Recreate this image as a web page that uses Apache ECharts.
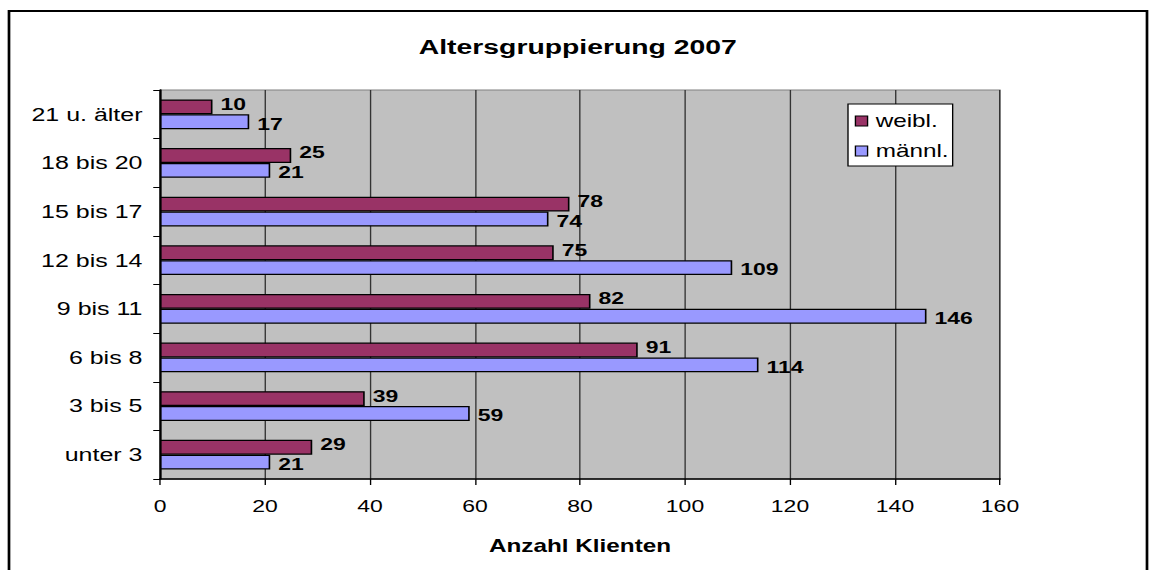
<!DOCTYPE html>
<html>
<head>
<meta charset="utf-8">
<script src="https://cdn.jsdelivr.net/npm/echarts@6/dist/echarts.min.js"></script>
<style>
  html, body { margin: 0; padding: 0; background: #fff; overflow: hidden; }
  #main { height: 570px; transform-origin: 0 0; }
</style>
</head>
<body>
<div id="main"></div>
<script>
  // data
  var categories = ['unter 3', '3 bis 5', '6 bis 8', '9 bis 11', '12 bis 14', '15 bis 17', '18 bis 20', '21 u. älter'];
  var weibl = [29, 39, 91, 82, 75, 78, 25, 10];
  var maennl = [21, 59, 114, 146, 109, 74, 21, 17];
  var seriesNames = ['weibl.', 'männl.'];

  // the reference picture is stretched sideways, so the chart is drawn narrower and scaled
  var S = 1.35;
  var el = document.getElementById('main');
  el.style.width = (1156 / S) + 'px';
  el.style.transform = 'scaleX(' + S + ')';

  var font = 'Liberation Sans, Arial, sans-serif';
  var chart = echarts.init(el, null, { renderer: 'svg' });

  var option = {
    backgroundColor: '#fff',
    animation: false,
    textStyle: { fontFamily: font, color: '#000' },
    title: {
      text: 'Altersgruppierung 2007',
      left: 'center',
      top: 31,
      textStyle: { fontFamily: font, fontSize: 21, fontWeight: 'bold', color: '#000' }
    },
    legend: {
      data: seriesNames,
      orient: 'vertical',
      left: 848 / S,
      top: 104,
      padding: [8, 3, 6, 5],
      itemWidth: 9,
      itemHeight: 10,
      itemGap: 12,
      icon: 'rect',
      backgroundColor: '#fff',
      borderColor: '#000',
      borderWidth: 1,
      borderRadius: 0,
      itemStyle: { borderColor: '#000', borderWidth: 1 },
      textStyle: { fontFamily: font, fontSize: 18, color: '#000', padding: [0, 0, 0, 1] }
    },
    grid: {
      left: 160 / S,
      top: 90,
      width: 840 / S,
      height: 389,
      show: true,
      backgroundColor: '#c0c0c0',
      borderColor: '#808080',
      borderWidth: 1
    },
    xAxis: {
      type: 'value',
      min: 0,
      max: 160,
      interval: 20,
      name: 'Anzahl Klienten',
      nameLocation: 'middle',
      nameGap: 58,
      nameTextStyle: { fontFamily: font, fontSize: 18, fontWeight: 'bold', color: '#000' },
      axisLine: { show: true, lineStyle: { color: '#000', width: 1.5 } },
      axisTick: { show: true, length: 6, lineStyle: { color: '#000' } },
      axisLabel: { fontFamily: font, fontSize: 17, color: '#000', margin: 19 },
      splitLine: { show: true, lineStyle: { color: '#333', width: 1 } }
    },
    yAxis: {
      type: 'category',
      data: categories,
      axisLine: { show: true, lineStyle: { color: '#000', width: 1.5 } },
      axisTick: { show: true, length: 5, lineStyle: { color: '#000' } },
      axisLabel: { fontFamily: font, fontSize: 18.5, color: '#000', margin: 13 },
      splitLine: { show: false }
    },
    series: [
      {
        name: seriesNames[0],
        type: 'bar',
        data: weibl,
        barGap: '0%',
        barCategoryGap: '39%',
        itemStyle: { color: '#993366', borderColor: '#000', borderWidth: 1.2 },
        label: {
          show: true, position: 'right', distance: 6, offset: [0, -3],
          fontFamily: font, fontSize: 17, fontWeight: 'bold', color: '#000'
        }
      },
      {
        name: seriesNames[1],
        type: 'bar',
        data: maennl,
        barGap: '0%',
        barCategoryGap: '39%',
        itemStyle: { color: '#9999ff', borderColor: '#000', borderWidth: 1.2 },
        label: {
          show: true, position: 'right', distance: 6, offset: [0, 2],
          fontFamily: font, fontSize: 17, fontWeight: 'bold', color: '#000'
        }
      }
    ],
    graphic: [
      {
        type: 'rect',
        shape: { x: 9 / S, y: 11, width: 1138 / S, height: 600 },
        style: { fill: 'none', stroke: '#000', lineWidth: 2 },
        silent: true
      }
    ]
  };

  chart.setOption(option);
</script>
</body>
</html>
